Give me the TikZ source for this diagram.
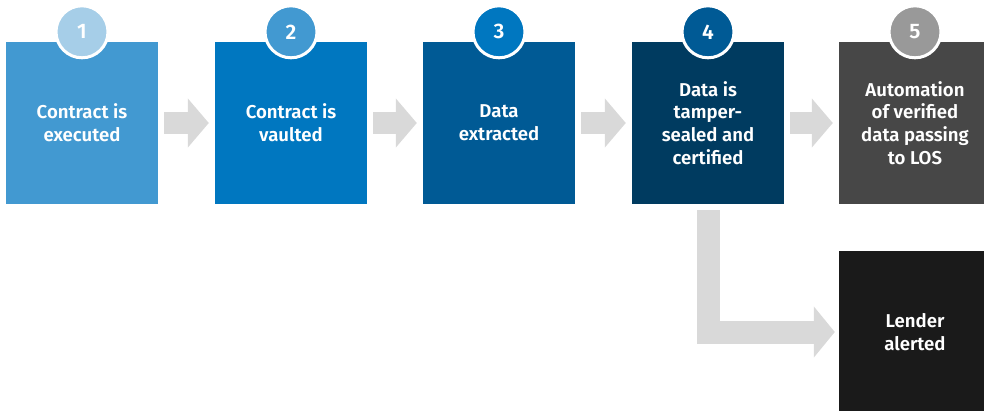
\documentclass[tikz,border=0pt]{standalone}
\usepackage{fontspec}
\setmainfont{Fira Sans}[BoldFont={Fira Sans SemiBold}]
\usetikzlibrary{arrows.meta}

\definecolor{cardA}{HTML}{4299D1}
\definecolor{cardB}{HTML}{0077C0}
\definecolor{cardC}{HTML}{005A95}
\definecolor{cardD}{HTML}{003B60}
\definecolor{cardE}{HTML}{474747}
\definecolor{cardF}{HTML}{1A1A1A}
\definecolor{dotA}{HTML}{A6CEE8}
\definecolor{dotE}{HTML}{999999}
\definecolor{flowgray}{HTML}{D9D9D9}

\begin{document}
\begin{tikzpicture}[x=1pt,y=-1pt,line join=miter,
    card/.style={rectangle,minimum width=152pt,minimum height=162pt,inner sep=0pt,
      align=center,text=white,font=\bfseries\fontsize{18.6}{22.7}\selectfont,
      execute at begin node={\rule{0pt}{18pt}}},
    badge/.style={circle,minimum size=52pt,inner sep=0pt,draw=white,line width=3pt,
      text=white,font=\bfseries\fontsize{21}{22}\selectfont},
    flow/.style={draw=flowgray,line width=22pt,-{Triangle[length=21pt,width=48pt]}}]
        \useasboundingbox (0,0) rectangle (984,410);

        \node[card,fill=cardA] (exec) at (82,123) {Contract is\\executed};
        \node[card,fill=cardB] (vault) at (291,123) {Contract is\\vaulted};
        \node[card,fill=cardC] (extract) at (499,123) {Data\\extracted};
        \node[card,fill=cardD] (seal) at (708,123) {Data is\\tamper-\\sealed and\\certified};
        \node[card,fill=cardE] (los) at (915,123) {Automation\\of verified\\data passing\\to LOS};
        \node[card,fill=cardF] (lender) at (915,332) {Lender\\alerted};

        \node[badge,fill=dotA] (n1) at ([yshift=10pt]exec.north) {1};
        \node[badge,fill=cardA] (n2) at ([yshift=10pt]vault.north) {2};
        \node[badge,fill=cardB] (n3) at ([yshift=10pt]extract.north) {3};
        \node[badge,fill=cardC] (n4) at ([yshift=10pt]seal.north) {4};
        \node[badge,fill=dotE] (n5) at ([yshift=10pt]los.north) {5};

        \draw[flow] ([xshift=6pt]exec.east) -- ([xshift=-6pt]vault.west);
        \draw[flow] ([xshift=6pt]vault.east) -- ([xshift=-6pt]extract.west);
        \draw[flow] ([xshift=6pt]extract.east) -- ([xshift=-6pt]seal.west);
        \draw[flow] ([xshift=6pt]seal.east) -- ([xshift=-6pt]los.west);
        \draw[flow,line width=23pt,-{Triangle[length=21pt,width=50pt]}]
          ([yshift=-6pt]seal.south) |- ([xshift=-4pt]lender.west);
      \end{tikzpicture}
\end{document}
